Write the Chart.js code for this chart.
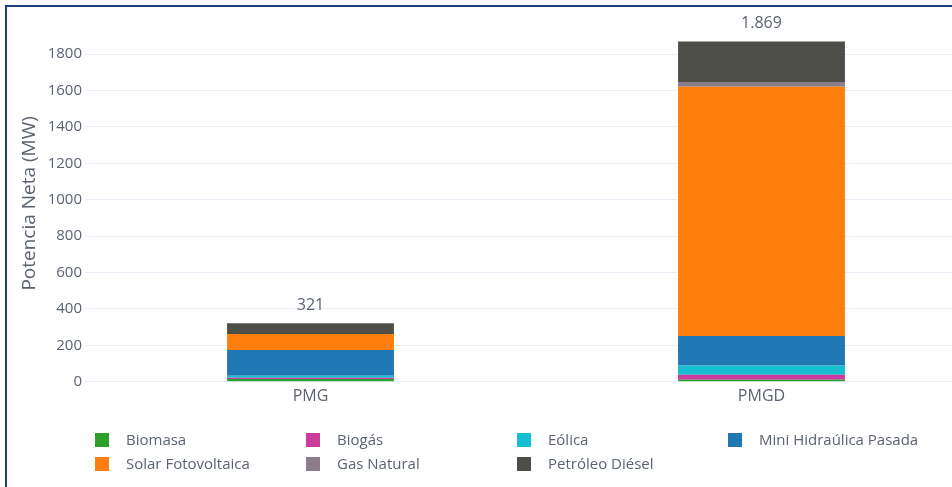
<!DOCTYPE html>
<html>
<head>
<meta charset="utf-8">
<script src="https://cdn.jsdelivr.net/npm/chart.js@4.4.0/dist/chart.umd.min.js"></script>
<style>
  html, body { margin: 0; padding: 0; background: #fff; overflow: hidden; }
  #frame {
    position: absolute; left: 5px; top: 5px;
    width: 1000px; height: 500px;
    border: 2px solid #1f3b7a;
  }
  #wrap { position: absolute; left: 0; top: 0; width: 995px; height: 487px; }
</style>
</head>
<body>
<div id="frame"></div>
<div id="wrap"><canvas id="chart"></canvas></div>
<script>
const categories = ['PMG', 'PMGD'];
const seriesNames = ['Biomasa', 'Biogás', 'Eólica', 'Mini Hidraúlica Pasada', 'Solar Fotovoltaica', 'Gas Natural', 'Petróleo Diésel'];
const seriesColors = ['#2ca02c', '#c93b9e', '#17becf', '#1f77b4', '#ff7f0e', '#8b7e8a', '#4e4e49'];
const biomasa = [15, 11];
const biogas = [7, 28];
const eolica = [11, 50];
const miniHidraulica = [141, 163];
const solarFotovoltaica = [88, 1369];
const gasNatural = [0, 26];
const petroleoDiesel = [59, 222];
const seriesValues = [biomasa, biogas, eolica, miniHidraulica, solarFotovoltaica, gasNatural, petroleoDiesel];
const yTicks = [0, 200, 400, 600, 800, 1000, 1200, 1400, 1600, 1800];

const FONT = '"Open Sans", Lato, sans-serif';
const TEXT = '#5b6371';

function fmtNum(v) {
  return String(Math.round(v)).replace(/\B(?=(\d{3})+(?!\d))/g, '.');
}

// totals above each stack
const totalsPlugin = {
  id: 'totals',
  afterDatasetsDraw(chart) {
    const ctx = chart.ctx;
    const x = chart.scales.x, y = chart.scales.y;
    ctx.save();
    ctx.font = '16px ' + FONT;
    ctx.fillStyle = TEXT;
    ctx.textAlign = 'center';
    ctx.textBaseline = 'middle';
    categories.forEach((c, i) => {
      const total = seriesValues.reduce((s, arr) => s + arr[i], 0);
      ctx.fillText(fmtNum(total), x.getPixelForValue(i), y.getPixelForValue(total) - 18);
    });
    ctx.restore();
  }
};

// legend in fixed columns below the plot
const gridLegend = {
  id: 'gridLegend',
  afterDraw(chart) {
    const ctx = chart.ctx;
    ctx.save();
    ctx.font = '15px ' + FONT;
    ctx.textBaseline = 'middle';
    chart.data.datasets.forEach((ds, i) => {
      const col = i % 4, row = Math.floor(i / 4);
      const lx = 95 + col * 211, ly = 440 + row * 24;
      ctx.fillStyle = ds.backgroundColor;
      ctx.fillRect(lx, ly - 7, 14, 14);
      ctx.fillStyle = TEXT;
      ctx.fillText(ds.label, lx + 31, ly + 1);
    });
    ctx.restore();
  }
};

new Chart(document.getElementById('chart'), {
  type: 'bar',
  data: {
    labels: categories,
    datasets: seriesNames.map((name, i) => ({
      label: name,
      data: seriesValues[i],
      backgroundColor: seriesColors[i],
      borderWidth: 0,
      categoryPercentage: 1,
      barPercentage: 0.37
    }))
  },
  options: {
    responsive: true,
    maintainAspectRatio: false,
    animation: false,
    devicePixelRatio: 1,
    layout: { padding: { top: 25, left: 18, right: 8, bottom: 84 } },
    plugins: { legend: { display: false }, tooltip: { enabled: false } },
    scales: {
      x: {
        stacked: true,
        grid: { display: false },
        border: { display: false },
        ticks: { color: TEXT, font: { size: 16, family: FONT }, padding: -3 }
      },
      y: {
        stacked: true,
        min: 0,
        max: 1960,
        afterBuildTicks(scale) { scale.ticks = yTicks.map(v => ({ value: v })); },
        afterFit(scale) { scale.width = 67; },
        grid: { color: '#e9eef6', drawTicks: false },
        border: { display: false },
        ticks: { color: TEXT, font: { size: 15, family: FONT }, padding: 3, callback: v => String(v) },
        title: { display: true, text: 'Potencia Neta (MW)', color: TEXT, font: { size: 19, family: FONT }, padding: 0 }
      }
    }
  },
  plugins: [totalsPlugin, gridLegend]
});
</script>
</body>
</html>
